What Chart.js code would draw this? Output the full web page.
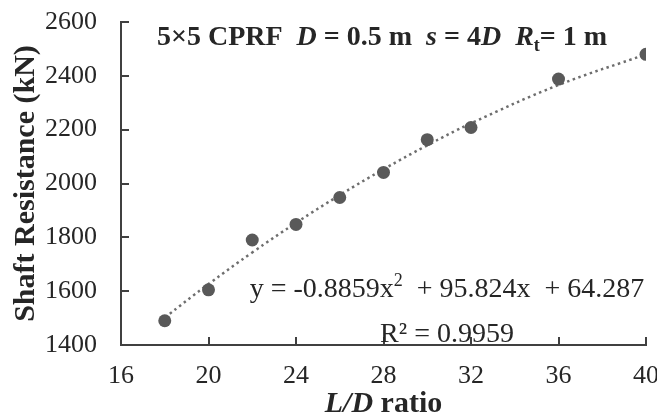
<!DOCTYPE html>
<html>
<head>
<meta charset="utf-8">
<script src="https://cdn.jsdelivr.net/npm/chart.js@4.4.1/dist/chart.umd.min.js"></script>
<style>
  html, body { margin: 0; padding: 0; background: #fff; }
  #wrap { width: 657px; height: 417px; }
</style>
</head>
<body>
<div id="wrap"><canvas id="shaft" width="657" height="417"></canvas></div>
<script>
// shaft resistance vs L/D, 5x5 CPRF group

const ldRatio = [18, 20, 22, 24, 26, 28, 30, 32, 36, 40];
const shaftRes = [1490, 1605, 1790, 1848, 1948, 2041, 2163, 2208, 2388, 2480];

// excel poly trendline (order 2): a*x^2 + b*x + c
const fitCoef = [-0.8859, 95.824, 64.287];
const fitR2 = '0.9959';

const xRange = [16, 40, 4];
const yRange = [1400, 2600, 200];

const SERIF = '"Liberation Serif", "Times New Roman", serif';
const inkColor = '#262626';
const axisColor = '#404040';

const fitPoints = ldRatio.map(x => ({
  x: x,
  y: fitCoef[0] * x * x + fitCoef[1] * x + fitCoef[2]
}));

// draw a row of text pieces with their own fonts (italic symbols, sub/superscripts)
function drawRuns(ctx, runs, x, y, align) {
  let total = 0;
  runs.forEach(r => { ctx.font = r.font; r.w = ctx.measureText(r.t).width; total += r.w; });
  let cx = align === 'center' ? x - total / 2 : x;
  ctx.textAlign = 'left';
  ctx.textBaseline = 'alphabetic';
  runs.forEach(r => {
    ctx.font = r.font;
    ctx.fillText(r.t, cx, y + (r.dy || 0));
    cx += r.w;
  });
}

const B = 'bold 28px ' + SERIF;
const BI = 'italic bold 28px ' + SERIF;
const R = '28px ' + SERIF;

const labelsPlugin = {
  id: 'labels',
  afterDraw(chart) {
    const ctx = chart.ctx;
    const xs = chart.scales.x, ys = chart.scales.y;
    const area = chart.chartArea;
    ctx.save();

    // inward tick marks
    ctx.strokeStyle = axisColor;
    ctx.lineWidth = 2;
    ctx.beginPath();
    for (let v = xRange[0]; v <= xRange[1]; v += xRange[2]) {
      const px = Math.round(xs.getPixelForValue(v));
      ctx.moveTo(px, area.bottom);
      ctx.lineTo(px, area.bottom - 8);
    }
    for (let v = yRange[0]; v <= yRange[1]; v += yRange[2]) {
      const py = Math.round(ys.getPixelForValue(v));
      ctx.moveTo(area.left, py);
      ctx.lineTo(area.left + 8, py);
    }
    ctx.stroke();

    ctx.fillStyle = inkColor;

    // heading
    drawRuns(ctx, [
      { t: '5×5 CPRF  ', font: B },
      { t: 'D', font: BI },
      { t: ' = 0.5 m  ', font: B },
      { t: 's', font: BI },
      { t: ' = 4', font: B },
      { t: 'D', font: BI },
      { t: '  ', font: B },
      { t: 'R', font: BI },
      { t: 't', font: 'bold 18px ' + SERIF, dy: 6 },
      { t: '= 1 m', font: B }
    ], 157, 45, 'left');

    // trendline equation + R squared
    const eqX = 447;
    drawRuns(ctx, [
      { t: 'y = ' + fitCoef[0] + 'x', font: R },
      { t: '2', font: '18px ' + SERIF, dy: -11 },
      { t: '  + ' + fitCoef[1] + 'x  + ' + fitCoef[2], font: R }
    ], eqX, 297, 'center');
    drawRuns(ctx, [{ t: 'R² = ' + fitR2, font: R }], eqX, 342, 'center');

    // x axis title
    drawRuns(ctx, [
      { t: 'L/D', font: 'italic bold 30px ' + SERIF },
      { t: ' ratio', font: 'bold 30px ' + SERIF }
    ], (area.left + area.right) / 2, 412, 'center');

    // y axis title
    ctx.translate(34, (area.top + area.bottom) / 2);
    ctx.rotate(-Math.PI / 2);
    drawRuns(ctx, [{ t: 'Shaft Resistance (kN)', font: 'bold 30px ' + SERIF }], 0, 0, 'center');

    ctx.restore();
  }
};

new Chart(document.getElementById('shaft'), {
  type: 'scatter',
  data: {
    datasets: [
      {
        label: 'Shaft resistance',
        data: ldRatio.map((x, i) => ({ x: x, y: shaftRes[i] })),
        backgroundColor: '#595959',
        borderWidth: 0,
        pointRadius: 6.5,
        order: 1
      },
      {
        label: 'Poly. trend',
        type: 'line',
        data: fitPoints,
        borderColor: '#6e6e6e',
        borderWidth: 2.5,
        borderDash: [2.5, 3.5],
        borderCapStyle: 'butt',
        pointRadius: 0,
        fill: false,
        tension: 0.4,
        order: 2
      }
    ]
  },
  options: {
    responsive: false,
    animation: false,
    devicePixelRatio: 1,
    layout: { padding: { top: 22, right: 11, left: 0, bottom: 0 }, autoPadding: false },
    plugins: {
      legend: { display: false },
      tooltip: { enabled: false }
    },
    scales: {
      x: {
        type: 'linear',
        min: xRange[0],
        max: xRange[1],
        ticks: {
          stepSize: xRange[2],
          padding: 16,
          color: inkColor,
          font: { family: SERIF, size: 26 },
          callback: v => String(v)
        },
        grid: { display: false, drawTicks: false },
        border: { display: true, color: axisColor, width: 2 },
        afterFit(scale) {
          scale.height = 72;
          scale.paddingLeft = 0;
          scale.paddingRight = 0;
        }
      },
      y: {
        type: 'linear',
        min: yRange[0],
        max: yRange[1],
        ticks: {
          stepSize: yRange[2],
          padding: 24,
          color: inkColor,
          font: { family: SERIF, size: 26 },
          callback: v => String(v)
        },
        grid: { display: false, drawTicks: false },
        border: { display: true, color: axisColor, width: 2 },
        afterFit(scale) {
          scale.width = 121;
          scale.paddingTop = 0;
          scale.paddingBottom = 0;
        }
      }
    }
  },
  plugins: [labelsPlugin]
});
</script>
</body>
</html>
